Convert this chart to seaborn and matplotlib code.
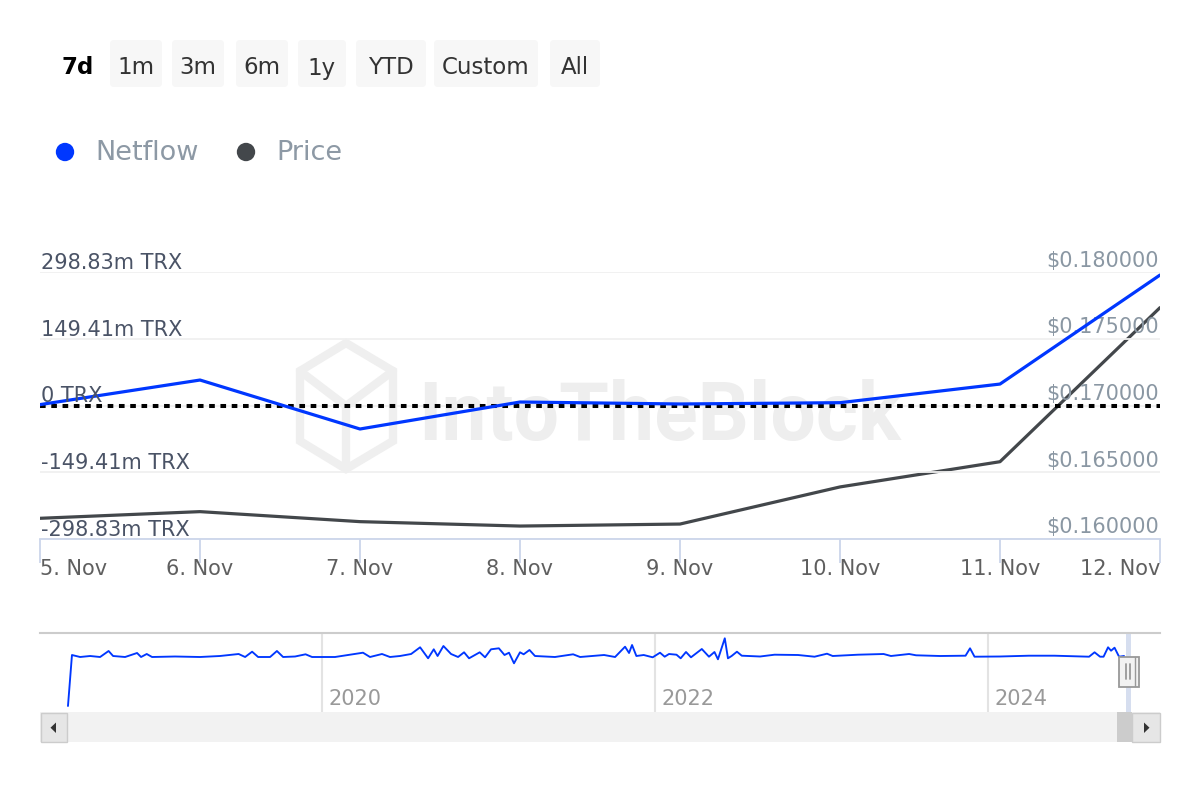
import matplotlib
matplotlib.use("Agg")
import matplotlib.pyplot as plt
import matplotlib.dates as mdates
import matplotlib.transforms as mtransforms
from matplotlib.patches import FancyBboxPatch, Rectangle, Polygon
import seaborn as sns
import pandas as pd

# ---------------- data ----------------
dates = ["2024-11-05", "2024-11-06", "2024-11-07", "2024-11-08",
         "2024-11-09", "2024-11-10", "2024-11-11", "2024-11-12"]
date_labels = ["5. Nov", "6. Nov", "7. Nov", "8. Nov",
               "9. Nov", "10. Nov", "11. Nov", "12. Nov"]
netflow_m = [2.0, 57.0, -52.6, 7.8, 3.4, 6.3, 48.0, 292.0]
price_usd = [0.16155, 0.16205, 0.16130, 0.16097, 0.16112, 0.16390, 0.16579, 0.17733]

left_ticks = [-298.83, -149.41, 0, 149.41, 298.83]
left_labels = ["-298.83m TRX", "-149.41m TRX", "0 TRX", "149.41m TRX", "298.83m TRX"]
right_ticks = [0.160, 0.165, 0.170, 0.175, 0.180]
right_labels = ["\\$0.160000", "\\$0.165000", "\\$0.170000", "\\$0.175000", "\\$0.180000"]

nav_years = [2018.474, 2018.498, 2018.547, 2018.607, 2018.667, 2018.718, 2018.745, 2018.817,
             2018.889, 2018.913, 2018.947, 2018.979, 2019.117, 2019.267, 2019.387, 2019.499,
             2019.538, 2019.580, 2019.616, 2019.688, 2019.729, 2019.766, 2019.838, 2019.901,
             2019.940, 2020.078, 2020.246, 2020.288, 2020.360, 2020.408, 2020.468, 2020.535,
             2020.589, 2020.637, 2020.671, 2020.694, 2020.729, 2020.775, 2020.817, 2020.853,
             2020.883, 2020.947, 2020.979, 2021.015, 2021.062, 2021.096, 2021.123, 2021.153,
             2021.189, 2021.211, 2021.246, 2021.279, 2021.399, 2021.508, 2021.550, 2021.694,
             2021.760, 2021.820, 2021.844, 2021.862, 2021.888, 2021.932, 2021.986, 2022.030,
             2022.058, 2022.084, 2022.129, 2022.154, 2022.186, 2022.216, 2022.281, 2022.324,
             2022.357, 2022.378, 2022.419, 2022.438, 2022.460, 2022.492, 2022.521, 2022.631,
             2022.718, 2022.859, 2022.958, 2023.033, 2023.067, 2023.219, 2023.373, 2023.417,
             2023.526, 2023.568, 2023.712, 2023.865, 2023.892, 2023.919, 2024.072, 2024.246,
             2024.399, 2024.607, 2024.640, 2024.673, 2024.694, 2024.721, 2024.739, 2024.760,
             2024.787, 2024.817]
nav_netflow = [-980, 40, 0, 20, 0, 120, 20, 0,
               80, 0, 60, 0, 10, 0, 20, 60,
               0, 106, 0, 0, 120, 0, 10, 54,
               0, 0, 86, 0, 60, 0, 20, 60,
               194, -26, 154, 20, 220, 60, 0, 94,
               -26, 94, -6, 154, 174, 40, 86, -126,
               94, 54, 140, 20, 0, 54, 0, 40,
               0, 206, 80, 240, 20, 40, -6, 86,
               6, 60, 46, -26, 100, -6, 160, 6,
               100, -46, 374, -26, 20, 106, 26, 10,
               46, 40, 6, 66, 20, 46, 60, 20,
               60, 34, 20, 26, 174, 6, 10, 26,
               26, 6, 94, 6, 6, 194, 126, 186,
               6, 20]
nav_year_ticks = [2020, 2022, 2024]

range_buttons = ["7d", "1m", "3m", "6m", "1y", "YTD", "Custom", "All"]
series_names = ["Netflow", "Price"]

BLUE = "#0037ff"
GREY = "#43474b"

# ---------------- style ----------------
sns.set_style("white")
plt.rcParams["font.family"] = ["DejaVu Sans"]

W, H = 1200, 800
fig = plt.figure(figsize=(12, 8), dpi=100, facecolor="white")


def fbox(x0, y0, x1, y1):
    return [x0 / W, 1 - y1 / H, (x1 - x0) / W, (y1 - y0) / H]


# background overlay (watermark)
ax_bg = fig.add_axes([0, 0, 1, 1], zorder=0)
ax_bg.set_xlim(0, W)
ax_bg.set_ylim(H, 0)
ax_bg.axis("off")

wm = "#efefef"
ax_bg.add_patch(Polygon([(346, 343), (393, 371), (393, 441), (346, 469), (300, 441), (300, 371)],
                        closed=True, fill=False, ec=wm, lw=6, joinstyle="miter"))
ax_bg.plot([300, 346, 393], [371, 406, 371], color=wm, lw=6)
ax_bg.plot([346, 346], [406, 469], color=wm, lw=6)
ax_bg.text(660, 440, "IntoTheBlock", fontsize=58, fontweight="bold", color="#eeeeee",
           ha="center", va="baseline", family=["Roboto", "DejaVu Sans"])

# ---------------- main chart ----------------
df = pd.DataFrame({"date": pd.to_datetime(dates), "netflow": netflow_m, "price": price_usd})

ax = fig.add_axes(fbox(40, 272, 1160, 539), zorder=2)
ax2 = ax.twinx()
ax.set_zorder(ax2.get_zorder() + 1)
ax.patch.set_visible(False)
ax2.patch.set_visible(False)

sns.lineplot(data=df, x="date", y="price", ax=ax2, color=GREY, lw=2.3)
sns.lineplot(data=df, x="date", y="netflow", ax=ax, color=BLUE, lw=2.3, zorder=3)
ax.axhline(0, color="black", lw=2.9, linestyle=(0, (1.4, 1.4)), zorder=2.5)

ax.set_xlim(df["date"].min(), df["date"].max())
ax.set_ylim(left_ticks[0], left_ticks[-1])
ax2.set_ylim(right_ticks[0], right_ticks[-1])
ax.set_xlabel("")
ax.set_ylabel("")
ax2.set_xlabel("")
ax2.set_ylabel("")

ax.set_yticks(left_ticks)
ax.set_yticklabels([])
ax.tick_params(axis="y", length=0, left=False, right=False)
ax.yaxis.grid(True, color="#f0f0f0", lw=1.3)
ax.xaxis.grid(False)
ax.set_xticks(df["date"])
ax.set_xticklabels([""] * len(dates))
ax.tick_params(axis="x", bottom=True, length=17, width=1.3, color="#ccd6eb", direction="out")
for s in ["left", "right", "top"]:
    ax.spines[s].set_visible(False)
    ax2.spines[s].set_visible(False)
ax.spines["bottom"].set_color("#ccd6eb")
ax.spines["bottom"].set_linewidth(1.3)
ax2.spines["bottom"].set_visible(False)
ax2.set_yticks([])
ax2.tick_params(axis="both", length=0, labelright=False, labelleft=False)

ltr = mtransforms.offset_copy(ax.get_yaxis_transform(), fig=fig, x=1, y=3, units="dots")
for v, lab in zip(left_ticks, left_labels):
    ax.text(0, v, lab, transform=ltr, ha="left", va="baseline", fontsize=15, color="#4a5366", zorder=4)

rtr = mtransforms.offset_copy(ax2.get_yaxis_transform(), fig=fig, x=-1, y=5.5, units="dots")
for v, lab in zip(right_ticks, right_labels):
    ax2.text(1, v, lab, transform=rtr, ha="right", va="baseline", fontsize=15, color="#8a97a3")

xtr = mtransforms.offset_copy(ax.get_xaxis_transform(), fig=fig, y=-36, units="dots")
for i, (d, lab) in enumerate(zip(df["date"], date_labels)):
    ha = "left" if i == 0 else ("right" if i == len(dates) - 1 else "center")
    ax.text(mdates.date2num(d), 0, lab, transform=xtr, ha=ha, va="baseline",
            fontsize=15, color="#5f5f5f")

# ---------------- navigator ----------------
nav = fig.add_axes(fbox(40, 633, 1160, 712), zorder=2)
sns.lineplot(x=nav_years, y=nav_netflow, ax=nav, color=BLUE, lw=1.35)
nav.set_xlim(2018.306, 2025.033)
nav.set_ylim(-1100, 480)
nav.set_xlabel("")
nav.set_ylabel("")
nav.set_yticks([])
nav.set_xticks(nav_year_ticks)
nav.set_xticklabels([])
nav.tick_params(axis="x", length=0)
nav.xaxis.grid(True, color="#e3e3e3", lw=1.5)
nav.patch.set_visible(False)
for s in ["left", "right", "bottom"]:
    nav.spines[s].set_visible(False)
nav.spines["top"].set_color("#cccccc")
nav.spines["top"].set_linewidth(1.5)
ntr = mtransforms.offset_copy(nav.get_xaxis_transform(), fig=fig, x=6.5, y=7, units="dots")
for yv in nav_year_ticks:
    nav.text(yv, 0, str(yv), transform=ntr, ha="left", va="baseline", fontsize=15, color="#999999")

# ---------------- foreground overlay (buttons, legend, scrollbar) ----------------
ax_fg = fig.add_axes([0, 0, 1, 1], zorder=10)
ax_fg.set_xlim(0, W)
ax_fg.set_ylim(H, 0)
ax_fg.axis("off")
ax_fg.patch.set_visible(False)

btn_boxes = [(60, 95), (110, 162), (172, 224), (236, 288), (298, 346), (356, 426), (434, 538), (550, 600)]
for i, (lab, (x0, x1)) in enumerate(zip(range_buttons, btn_boxes)):
    if i == 0:
        ax_fg.text((x0 + x1) / 2, 74.5, lab, ha="center", va="baseline", fontsize=16.5,
                   fontweight="bold", color="black")
    else:
        ax_fg.add_patch(FancyBboxPatch((x0 + 3, 43), (x1 - x0) - 6, 41,
                                       boxstyle="round,pad=3,rounding_size=4",
                                       fc="#f7f7f7", ec="none"))
        ax_fg.text((x0 + x1) / 2, 74.5, lab, ha="center", va="baseline", fontsize=16.5,
                   color="#333333")

# legend
for (cx, tx), name, col in zip([(65, 95), (246, 276)], series_names, [BLUE, GREY]):
    ax_fg.scatter([cx], [152], s=175, color=col, edgecolors="none")
    ax_fg.text(tx, 160.5, name, ha="left", va="baseline", fontsize=19.5, color="#8d99a5")

# navigator selection band + handle
ax_fg.add_patch(Rectangle((1126, 634), 5, 78, fc="#ccd6eb", ec="none", alpha=0.8))
ax_fg.add_patch(Rectangle((1118.5, 656.5), 20, 30, fc="#f2f2f2", ec="#999999", lw=1.3))
ax_fg.plot([1126, 1126], [664, 679], color="#999999", lw=1.3)
ax_fg.plot([1130, 1130], [664, 679], color="#999999", lw=1.3)
ax_fg.plot([1135, 1135], [657, 686], color="#999999", lw=1.0)

# scrollbar
ax_fg.add_patch(Rectangle((40, 712), 1120, 30, fc="#f2f2f2", ec="none"))
ax_fg.add_patch(Rectangle((1117, 712), 15, 30, fc="#cccccc", ec="none"))
ax_fg.add_patch(Rectangle((40.5, 712.5), 26.5, 29, fc="#e6e6e6", ec="#cccccc", lw=1))
ax_fg.add_patch(Rectangle((1132, 712.5), 27.5, 29, fc="#e6e6e6", ec="#cccccc", lw=1))
ax_fg.add_patch(Polygon([(56, 722.5), (56, 733), (50.5, 727.7)], closed=True, fc="#333333", ec="none"))
ax_fg.add_patch(Polygon([(1144, 722.5), (1144, 733), (1149.5, 727.7)], closed=True, fc="#333333", ec="none"))

fig.savefig("out.png", dpi=100, facecolor="white")
